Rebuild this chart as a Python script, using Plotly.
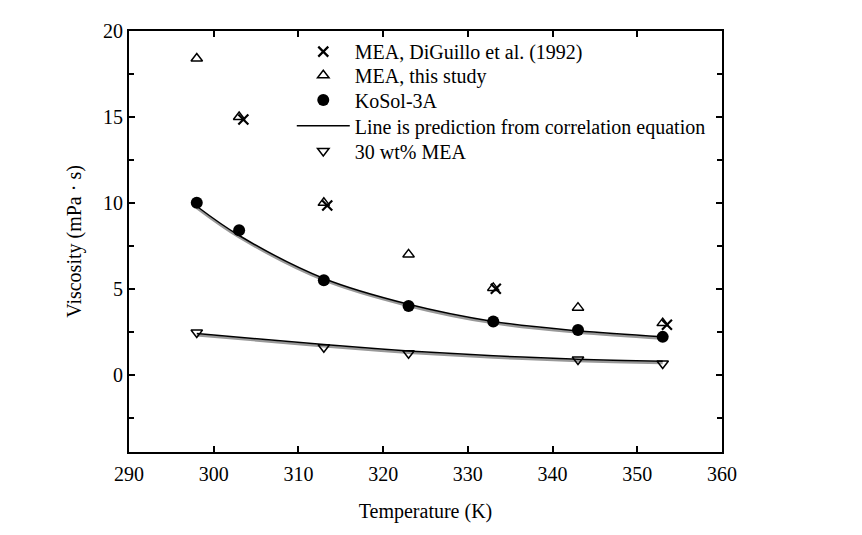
import plotly.graph_objects as go

# Data
T_diguillo = [303.5, 313.4, 333.3, 353.5]
mu_diguillo = [14.85, 9.85, 5.0, 2.9]

T_mea = [298, 303, 313, 323, 333, 343, 353]
mu_mea = [18.4, 15.0, 10.0, 7.0, 5.05, 3.9, 3.0]

T_kosol = [298, 303, 313, 323, 333, 343, 353]
mu_kosol = [10.0, 8.4, 5.5, 4.0, 3.1, 2.6, 2.2]

T_kosol_fit = [298, 303, 313, 323, 333, 343, 353]
mu_kosol_fit = [9.8, 8.1, 5.6, 4.1, 3.1, 2.55, 2.2]

T_mea30 = [298, 313, 323, 343, 353]
mu_mea30 = [2.45, 1.6, 1.25, 0.88, 0.65]

T_mea30_fit = [298, 313, 323, 333, 343, 353]
mu_mea30_fit = [2.4, 1.75, 1.38, 1.1, 0.9, 0.78]

FONT = "Liberation Serif"
FS = 20

fig = go.Figure()

# fitted lines (gray shadow + black line)
for tx, ty in [(T_kosol_fit, mu_kosol_fit), (T_mea30_fit, mu_mea30_fit)]:
    fig.add_trace(go.Scatter(x=tx, y=[v - 0.1 for v in ty], mode="lines",
                             line=dict(color="#999999", width=2.5, shape="spline"),
                             showlegend=False, hoverinfo="skip"))
    fig.add_trace(go.Scatter(x=tx, y=ty, mode="lines",
                             line=dict(color="black", width=1.5, shape="spline"),
                             showlegend=False))

fig.add_trace(go.Scatter(x=T_diguillo, y=mu_diguillo, mode="markers",
                         name="MEA, DiGuillo et al. (1992)", legend="legend",
                         marker=dict(symbol="x-thin-open", size=10, color="black",
                                     line=dict(color="black", width=2.2))))
fig.add_trace(go.Scatter(x=T_mea, y=mu_mea, mode="markers",
                         name="MEA, this study", legend="legend2",
                         marker=dict(symbol="triangle-up-open", size=10, color="black",
                                     line=dict(color="black", width=1.5))))
fig.add_trace(go.Scatter(x=T_kosol, y=mu_kosol, mode="markers",
                         name="KoSol-3A", legend="legend3",
                         marker=dict(symbol="circle", size=12, color="black")))
fig.add_trace(go.Scatter(x=[None], y=[None], mode="lines",
                         name="Line is prediction from correlation equation",
                         legend="legend4",
                         line=dict(color="black", width=1.5)))
fig.add_trace(go.Scatter(x=T_mea30, y=mu_mea30, mode="markers",
                         name="30 wt% MEA", legend="legend5",
                         marker=dict(symbol="triangle-down-open", size=10, color="black",
                                     line=dict(color="black", width=1.5))))

LX = 0.2745
legend_rows = [0.951, 0.895, 0.836, 0.775, 0.715]
leg_common = dict(x=LX, xanchor="left", yanchor="middle",
                  bgcolor="rgba(0,0,0,0)", font=dict(family=FONT, size=FS),
                  itemwidth=53, borderwidth=0)

fig.update_layout(
    width=862, height=535,
    margin=dict(l=121, r=148, t=17, b=91),
    paper_bgcolor="white", plot_bgcolor="white",
    font=dict(family=FONT, size=FS, color="black"),
    showlegend=True,
    legend=dict(y=legend_rows[0], **leg_common),
    legend2=dict(y=legend_rows[1], **leg_common),
    legend3=dict(y=legend_rows[2], **leg_common),
    legend4=dict(y=legend_rows[3], **leg_common),
    legend5=dict(y=legend_rows[4], **leg_common),
)
fig.update_xaxes(range=[290, 360], dtick=10, showgrid=False, zeroline=False,
                 showline=True, linecolor="black", linewidth=2, mirror="ticks",
                 ticks="inside", ticklen=6, tickwidth=2, tickcolor="black",
                 ticklabelstandoff=3,
                 title=dict(text="Temperature (K)", standoff=20,
                            font=dict(family=FONT, size=FS)),
                 tickfont=dict(family=FONT, size=FS))
fig.update_yaxes(range=[-4.5, 20], tickvals=[0, 5, 10, 15, 20], showgrid=False,
                 zeroline=False, showline=True, linecolor="black", linewidth=2,
                 mirror="ticks", ticks="inside", ticklen=6, tickwidth=2,
                 tickcolor="black",
                 minor=dict(tickvals=[-2.5, 2.5, 7.5, 12.5, 17.5], ticks="inside",
                            ticklen=5, tickwidth=1.5, tickcolor="black"),
                 title=dict(text="Viscosity (mPa · s)", standoff=16,
                            font=dict(family=FONT, size=FS)),
                 tickfont=dict(family=FONT, size=FS))

fig.write_html("out.html")
